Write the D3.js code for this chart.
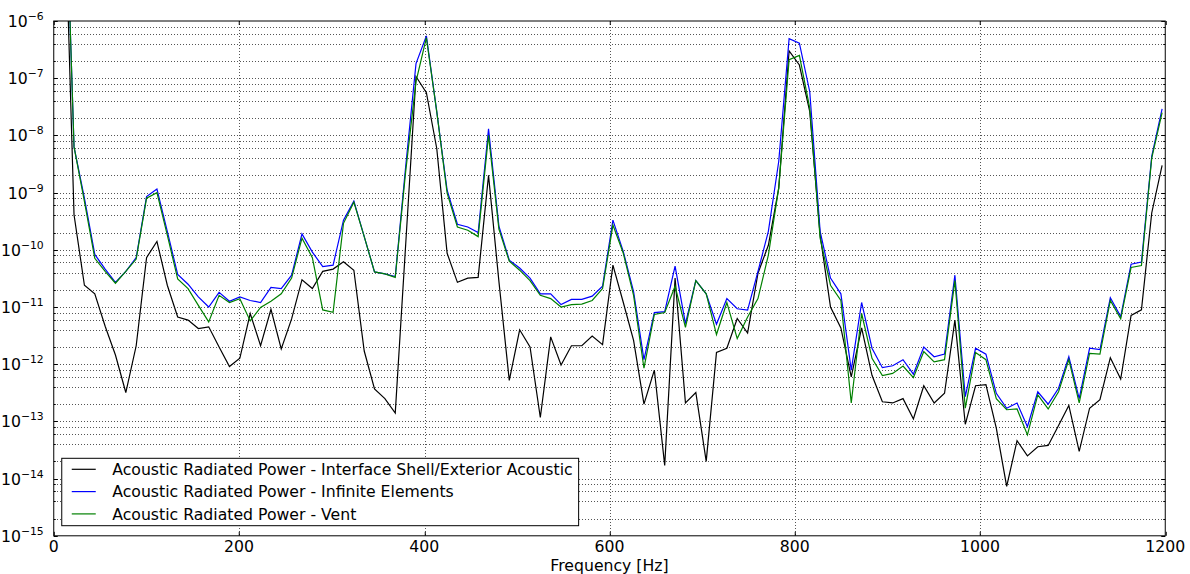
<!DOCTYPE html>
<meta charset="utf-8">
<style>
body { margin: 0; background: #fff; }
text { font-family: "DejaVu Sans", sans-serif; fill: #000; }
.grid line { stroke: #555; stroke-width: 1; stroke-dasharray: 1,2; shape-rendering: crispEdges; }
.series { fill: none; stroke-width: 1.2; }
</style>
<body>
<script src="https://cdnjs.cloudflare.com/ajax/libs/d3/7.8.5/d3.min.js"></script>
<script>
// frequency samples [Hz]
var freq = [10.7, 21.9, 33.1, 44.3, 55.5, 66.6, 77.8, 89.0, 100.2, 111.4,
  122.6, 133.8, 145.0, 156.1, 167.3, 178.5, 189.7, 200.9, 212.1, 223.3,
  234.5, 245.6, 256.8, 268.0, 279.2, 290.4, 301.6, 312.8, 324.0, 335.2,
  346.3, 357.5, 368.7, 379.9, 391.1, 402.3, 413.5, 424.7, 435.8, 447.0,
  458.2, 469.4, 480.6, 491.8, 503.0, 514.2, 525.3, 536.5, 547.7, 558.9,
  570.1, 581.3, 592.5, 603.7, 614.9, 626.0, 637.2, 648.4, 659.6, 670.8,
  682.0, 693.2, 704.4, 715.5, 726.7, 737.9, 749.1, 760.3, 771.5, 782.7,
  793.9, 805.0, 816.2, 827.4, 838.6, 849.8, 861.0, 872.2, 883.4, 894.6,
  905.7, 916.9, 928.1, 939.3, 950.5, 961.7, 972.9, 984.1, 995.2, 1006.4,
  1017.6, 1028.8, 1040.0, 1051.2, 1062.4, 1073.6, 1084.8, 1095.9, 1107.1, 1118.3,
  1129.5, 1140.7, 1151.9, 1163.1, 1174.3, 1185.4, 1196.6];

// Interface Shell/Exterior Acoustic
var shellPower = [6e-4, 4.1e-10, 2.4e-11, 1.7e-11, 4.6e-12, 1.45e-12, 3.2e-13, 2.1e-12, 7.3e-11, 1.4e-10,
  2.4e-11, 6.7e-12, 5.9e-12, 4.2e-12, 4.5e-12, 2.0e-12, 9.1e-13, 1.27e-12, 7.7e-12, 2.1e-12,
  9.1e-12, 1.85e-12, 6.2e-12, 3.0e-11, 2.1e-11, 4.2e-11, 4.6e-11, 6.2e-11, 4.4e-11, 1.7e-12,
  3.7e-13, 2.5e-13, 1.4e-13, 1.2e-10, 1.07e-7, 5.6e-8, 5.9e-9, 8.7e-11, 2.7e-11, 3.2e-11,
  3.3e-11, 2.0e-9, 2.8e-11, 5.2e-13, 4.0e-12, 2.0e-12, 1.17e-13, 3.0e-12, 9.7e-13, 2.1e-12,
  2.1e-12, 3.1e-12, 2.2e-12, 5.4e-11, 1.2e-11, 2.6e-12, 2.0e-13, 7.9e-13, 1.7e-14, 3.2e-11,
  2.1e-13, 3.2e-13, 2.0e-14, 1.6e-12, 1.9e-12, 6.3e-12, 3.5e-12, 3.9e-11, 1.2e-10, 1.2e-9,
  3.0e-7, 1.7e-7, 2.6e-8, 1.8e-10, 1.0e-11, 4.3e-12, 6.0e-13, 4.3e-12, 6.4e-13, 2.2e-13,
  2.1e-13, 2.5e-13, 1.1e-13, 4.2e-13, 2.1e-13, 3.1e-13, 5.9e-12, 8.9e-14, 4.2e-13, 4.4e-13,
  7.6e-14, 7.3e-15, 4.6e-14, 2.5e-14, 3.6e-14, 3.8e-14, 8.5e-14, 1.9e-13, 3.0e-14, 1.7e-13,
  2.4e-13, 1.3e-12, 5.5e-13, 7.1e-12, 8.9e-12, 4.4e-10, 3.0e-9];

// Infinite Elements
var infinitePower = [3e-3, 6.3e-9, 8.0e-10, 8.3e-11, 4.6e-11, 2.7e-11, 4.2e-11, 7.3e-11, 8.5e-10, 1.15e-9,
  2.1e-10, 3.7e-11, 2.5e-11, 1.5e-11, 1.0e-11, 1.8e-11, 1.26e-11, 1.5e-11, 1.3e-11, 1.2e-11,
  2.2e-11, 2.1e-11, 3.6e-11, 1.9e-10, 9.1e-11, 5.1e-11, 5.4e-11, 3.3e-10, 7.1e-10, 1.7e-10,
  4.1e-11, 3.8e-11, 3.4e-11, 2.8e-9, 1.8e-7, 5.5e-7, 2.6e-8, 1.1e-9, 2.8e-10, 2.5e-10,
  2.0e-10, 1.3e-8, 2.6e-10, 6.6e-11, 4.8e-11, 3.2e-11, 1.7e-11, 1.7e-11, 1.1e-11, 1.36e-11,
  1.36e-11, 1.55e-11, 2.3e-11, 3.3e-10, 9.3e-11, 1.85e-11, 1.2e-12, 8.0e-12, 8.3e-12, 5.2e-11,
  5.1e-12, 2.9e-11, 1.7e-11, 5.0e-12, 1.4e-11, 9.3e-12, 8.8e-12, 4.2e-11, 2.1e-10, 3.5e-9,
  4.9e-7, 4.1e-7, 5.8e-8, 2.1e-10, 3.2e-11, 1.7e-11, 7.9e-13, 1.2e-11, 1.9e-12, 8.7e-13,
  9.4e-13, 1.2e-12, 6.7e-13, 2.0e-12, 1.35e-12, 1.5e-12, 3.6e-11, 2.7e-13, 1.9e-12, 1.5e-12,
  3.1e-13, 1.7e-13, 2.1e-13, 8.1e-14, 3.3e-13, 2.0e-13, 3.8e-13, 1.35e-12, 2.5e-13, 1.9e-12,
  1.8e-12, 1.45e-11, 6.8e-12, 5.6e-11, 6.1e-11, 4.3e-9, 2.9e-8];

// Vent
var ventPower = [3e-3, 6.3e-9, 7.0e-10, 7.1e-11, 4.2e-11, 2.6e-11, 4.2e-11, 6.9e-11, 8.0e-10, 1.0e-9,
  1.8e-10, 3.1e-11, 2.1e-11, 1.07e-11, 5.5e-12, 1.6e-11, 1.2e-11, 1.4e-11, 5.7e-12, 9.8e-12,
  1.26e-11, 1.7e-11, 3.2e-11, 1.6e-10, 7.3e-11, 8.9e-12, 8.1e-12, 2.9e-10, 6.8e-10, 1.7e-10,
  4.1e-11, 3.8e-11, 3.3e-11, 2.3e-9, 8.7e-8, 5.1e-7, 2.6e-8, 9.8e-10, 2.5e-10, 2.2e-10,
  1.7e-10, 1.0e-8, 2.3e-10, 6.3e-11, 4.4e-11, 2.9e-11, 1.6e-11, 1.4e-11, 1.0e-11, 1.1e-11,
  1.12e-11, 1.3e-11, 2.1e-11, 2.7e-10, 8.7e-11, 1.6e-11, 8.5e-13, 7.4e-12, 8.0e-12, 2.3e-11,
  4.4e-12, 2.9e-11, 1.7e-11, 3.3e-12, 1.2e-11, 2.8e-12, 6.7e-12, 1.4e-11, 8.1e-11, 1.2e-9,
  2.1e-7, 2.5e-7, 3.0e-8, 1.6e-10, 2.4e-11, 1.3e-11, 2.1e-13, 7.7e-12, 1.27e-12, 6.3e-13,
  6.9e-13, 9.3e-13, 5.8e-13, 1.66e-12, 1.1e-12, 1.2e-12, 2.9e-11, 1.7e-13, 1.6e-12, 1.2e-12,
  2.5e-13, 1.6e-13, 1.65e-13, 5.8e-14, 2.9e-13, 1.65e-13, 3.3e-13, 1.2e-12, 2.1e-13, 1.55e-12,
  1.5e-12, 1.3e-11, 6.2e-12, 4.9e-11, 5.3e-11, 4.0e-9, 2.5e-8];

var seriesNames = ["Acoustic Radiated Power - Interface Shell/Exterior Acoustic",
  "Acoustic Radiated Power - Infinite Elements",
  "Acoustic Radiated Power - Vent"];
var seriesColors = ["#000000", "#0000ff", "#008000"];

var xTicks = [0, 200, 400, 600, 800, 1000, 1200];
var yExponents = [-15, -14, -13, -12, -11, -10, -9, -8, -7, -6];
var minorSubs = [2, 4, 6, 8];

var W = 1190, H = 574;
var margin = {top: 21, right: 24.75, bottom: 38.2, left: 53.75},
    width = W - margin.left - margin.right,
    height = H - margin.top - margin.bottom;
var fs = "15.7px";

var x = d3.scaleLinear().domain([0, 1200]).range([0, width]);
var y = d3.scaleLog().domain([1e-15, 1e-6]).range([height, 0]);

var svg = d3.select("body").append("svg")
    .attr("width", W).attr("height", H)
  .append("g")
    .attr("transform", "translate(" + margin.left + "," + margin.top + ")");

svg.append("clipPath").attr("id", "clip")
  .append("rect").attr("width", width).attr("height", height);

// y tick positions: decades and the 2,4,6,8 minor lines
var yMajor = yExponents.map(function(e) { return Math.pow(10, e); });
var yMinor = [];
yExponents.slice(0, -1).forEach(function(e) {
  minorSubs.forEach(function(m) { yMinor.push(m * Math.pow(10, e)); });
});

// grid
var grid = svg.append("g").attr("class", "grid");
grid.selectAll(".gx").data(xTicks.slice(1, -1)).enter().append("line")
    .attr("x1", function(d) { return Math.round(x(d)) + 0.5; })
    .attr("x2", function(d) { return Math.round(x(d)) + 0.5; })
    .attr("y1", 0).attr("y2", height);
grid.selectAll(".gy").data(yMajor.slice(1, -1).concat(yMinor)).enter().append("line")
    .attr("x1", 0).attr("x2", width)
    .attr("y1", function(d) { return Math.round(y(d)) + 0.5; })
    .attr("y2", function(d) { return Math.round(y(d)) + 0.5; });

// lines
var line = d3.line()
    .x(function(d, i) { return x(freq[i]); })
    .y(function(d) { return y(d); });

[shellPower, infinitePower, ventPower].forEach(function(s, k) {
  svg.append("path")
      .datum(s)
      .attr("class", "series")
      .attr("clip-path", "url(#clip)")
      .attr("stroke", seriesColors[k])
      .attr("d", line);
});

// ticks on all four sides, pointing in
var ticks = svg.append("g").attr("stroke", "#000").attr("stroke-width", 1);
xTicks.forEach(function(t) {
  var px = Math.round(x(t)) + 0.5;
  ticks.append("line").attr("x1", px).attr("x2", px).attr("y1", height).attr("y2", height - 4);
  ticks.append("line").attr("x1", px).attr("x2", px).attr("y1", 0).attr("y2", 4);
});
yMajor.forEach(function(t) {
  var py = Math.round(y(t)) + 0.5;
  ticks.append("line").attr("x1", 0).attr("x2", 4).attr("y1", py).attr("y2", py);
  ticks.append("line").attr("x1", width).attr("x2", width - 4).attr("y1", py).attr("y2", py);
});
yMinor.forEach(function(t) {
  var py = Math.round(y(t)) + 0.5;
  ticks.append("line").attr("x1", 0).attr("x2", 2).attr("y1", py).attr("y2", py);
  ticks.append("line").attr("x1", width).attr("x2", width - 2).attr("y1", py).attr("y2", py);
});

// frame
svg.append("rect")
    .attr("x", 0).attr("y", 0).attr("width", width).attr("height", height)
    .attr("fill", "none").attr("stroke", "#000").attr("stroke-width", 1);

// x tick labels
svg.selectAll(".xl").data(xTicks).enter().append("text")
    .attr("x", function(d) { return x(d); })
    .attr("y", height + 16.5)
    .attr("text-anchor", "middle")
    .style("font-size", fs)
    .text(function(d) { return d; });

// y tick labels, 10 with superscript exponent
yExponents.forEach(function(e) {
  var t = svg.append("text")
      .attr("x", -10)
      .attr("y", y(Math.pow(10, e)) + 6)
      .attr("text-anchor", "end")
      .style("font-size", fs);
  t.append("tspan").text("10");
  t.append("tspan").attr("dy", -7).style("font-size", "10.8px").text(String(e).replace("-", "\u2212"));
});

// axis title
svg.append("text")
    .attr("x", width / 2)
    .attr("y", height + 35.5)
    .attr("text-anchor", "middle")
    .style("font-size", fs)
    .text("Frequency [Hz]");

// legend
var lg = svg.append("g").attr("transform", "translate(8,437.3)");
var box = lg.append("rect")
    .attr("x", 0).attr("y", 0).attr("height", 67.4)
    .attr("fill", "#fff").attr("stroke", "#000").attr("stroke-width", 1);
var maxW = 0;
seriesNames.forEach(function(name, k) {
  var ry = 11 + k * 22.3;
  lg.append("line")
      .attr("x1", 10).attr("x2", 34)
      .attr("y1", ry).attr("y2", ry)
      .attr("stroke", seriesColors[k]).attr("stroke-width", 1.2);
  var tx = lg.append("text")
      .attr("x", 50.5).attr("y", ry + 5.7)
      .style("font-size", fs)
      .text(name);
  maxW = Math.max(maxW, tx.node().getComputedTextLength());
});
box.attr("width", 50.5 + maxW + 6);
</script>
</body>
